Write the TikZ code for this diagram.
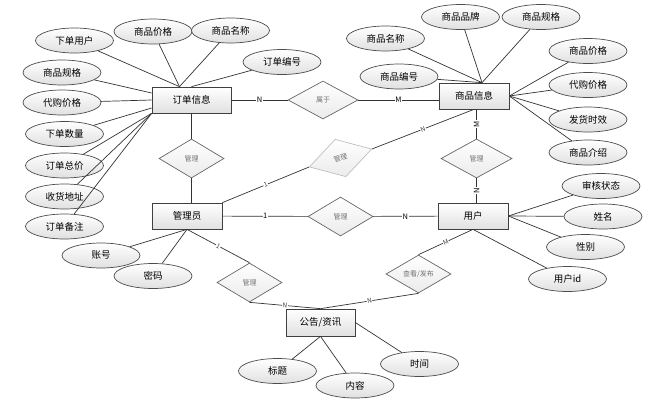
\documentclass[tikz,border=0pt]{standalone}
\usepackage{fontspec}
\setmainfont{Noto Sans CJK SC}
\usetikzlibrary{shapes.geometric}

\begin{document}
\begin{tikzpicture}[x=1pt,y=-1pt,line width=0.7pt]
\tikzstyle entity=[draw=black!75, top color=white, bottom color=black!12,
    minimum width=70pt, minimum height=26pt, font=\fontsize{9.5}{10}\selectfont]
\tikzstyle attr=[ellipse, draw=black!70, top color=white, bottom color=black!12,
    minimum width=78pt, minimum height=25pt, inner sep=1pt, font=\fontsize{9.5}{10}\selectfont]
\tikzstyle relation=[diamond, draw=black!60, top color=white, bottom color=black!8,
    minimum width=65pt, minimum height=39pt, inner sep=0pt, text=black!55,
    font=\fontsize{7}{8}\selectfont]
\tikzstyle card=[fill=white, inner sep=0.5pt, font=\fontsize{7.5}{8}\selectfont]
\tikzstyle small card=[card, sloped, text=black!75, font=\fontsize{6.5}{7}\selectfont]
 \useasboundingbox (0,0) rectangle (665,405);
 % entities
 \node[entity, minimum width=79pt] (order) at (191.5,100) {订单信息};
 \node[entity] (goods) at (474,96) {商品信息};
 \node[entity] (admin) at (187,216) {管理员};
 \node[entity] (user) at (473,216) {用户};
 \node[entity, minimum width=69pt, minimum height=27pt] (news) at (320.5,322.5) {公告/资讯};
 % relations
 \node[relation, minimum width=70pt, minimum height=38pt] (belong) at (323,100) {属于};
 \node[relation] (manage1) at (191.5,158.5) {管理};
 \node[relation, draw=black!25, rotate=16] (collect) at (340.5,158) {管理};
 \node[relation, minimum width=71pt] (manage3) at (476.5,158.5) {管理};
 \node[relation] (manage2) at (340.5,216.5) {管理};
 \node[relation] (manage4) at (249.5,282.5) {管理};
 \node[relation, minimum height=38pt] (publish) at (418.5,274) {查看/发布};
 % order attributes
 \node[attr] (o1) at (74.5,40.5) {下单用户};
 \node[attr] (o2) at (153,31.5) {商品价格};
 \node[attr] (o3) at (230.5,30.5) {商品名称};
 \node[attr] (o4) at (282,62) {订单编号};
 \node[attr] (o5) at (62,72.5) {商品规格};
 \node[attr] (o6) at (62,102.5) {代购价格};
 \node[attr] (o7) at (64.5,134) {下单数量};
 \node[attr] (o8) at (64.5,165.5) {订单总价};
 \node[attr] (o9) at (64.5,196.5) {收货地址};
 \node[attr] (o10) at (64.5,226.5) {订单备注};
 % goods attributes
 \node[attr] (g1) at (385.5,38.5) {商品名称};
 \node[attr] (g2) at (460.5,17) {商品品牌};
 \node[attr] (g3) at (541,17) {商品规格};
 \node[attr] (g4) at (399,76.5) {商品编号};
 \node[attr] (g5) at (588,51) {商品价格};
 \node[attr] (g6) at (588,85) {代购价格};
 \node[attr] (g7) at (588,119.5) {发货时效};
 \node[attr] (g8) at (588,152.5) {商品介绍};
 % user attributes
 \node[attr] (u1) at (601,186) {审核状态};
 \node[attr] (u2) at (603,216.5) {姓名};
 \node[attr] (u3) at (585.5,247) {性别};
 \node[attr] (u4) at (567.5,279) {用户id};
 % admin attributes
 \node[attr] (a1) at (101,255.5) {账号};
 \node[attr] (a2) at (153,276) {密码};
 % news attributes
 \node[attr] (n1) at (277.5,371) {标题};
 \node[attr] (n2) at (355,385.5) {内容};
 \node[attr] (n3) at (419.5,364) {时间};
 \begin{scope}[draw=black!80]
  \draw (o1) -- ([xshift=-12pt]order.north);
  \draw (o2) -- ([xshift=-12pt]order.north);
  \draw (o3) -- ([xshift=-12pt]order.north);
  \draw (o4) -- (order.north);
  \draw (o5) -- ([yshift=7pt]order.west);
  \draw (o6) -- (order.west);
  \draw (o7) -- ([yshift=-8pt]order.west);
  \draw (o8) -- (order.south west);
  \draw (o9) -- (order.south west);
  \draw (o10) -- (order.south west);
  \draw (g1) -- ([xshift=8pt]goods.north);
  \draw (g2) -- ([xshift=8pt]goods.north);
  \draw (g3) -- ([xshift=8pt]goods.north);
  \draw (g4) -- ([xshift=8pt]goods.north);
  \draw (g5) -- (goods.east);
  \draw (g6) -- (goods.east);
  \draw (g7) -- (goods.east);
  \draw (g8) -- (goods.east);
  \draw (u1) -- (user.east);
  \draw (u2) -- (user.east);
  \draw (u3) -- (user.east);
  \draw (u4) -- (user.south);
  \draw (a1) -- (admin.south);
  \draw (a2) -- (admin.south);
  \draw (n1) -- (news.south);
  \draw (n2) -- (news.south);
  \draw (n3) -- (news.east);
  % relation lines
  \draw (order) -- node[card] {N} (belong);
  \draw (belong) -- node[card] {M} (belong -| goods.west);
  \draw (order) -- (manage1);
  \draw (manage1) -- (manage1 |- admin.north);
  \draw (admin.north east) -- node[small card] {1} (collect.west);
  \draw (collect.east) -- node[small card] {N} (goods.south);
  \draw (goods.south -| manage3) -- node[card, rotate=90] {M} (manage3);
  \draw (manage3) -- node[card, rotate=90] {N} (manage3 |- user.north);
  \draw (admin) -- node[card] {1} (manage2);
  \draw (manage2) -- node[card] {N} (user);
  \draw (admin.south) -- node[small card] {1} (manage4.north);
  \draw (manage4.south) -- node[small card] {N} (news.north);
  \draw (user.south) -- node[small card] {M} (publish.north);
  \draw (publish.south) -- node[small card] {N} (news.north);
 \end{scope}
\end{tikzpicture}
\end{document}
